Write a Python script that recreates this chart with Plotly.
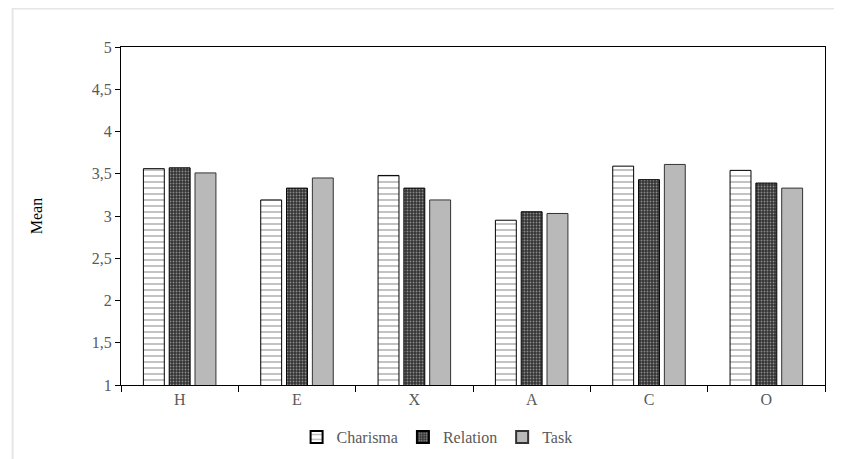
import plotly.graph_objects as go

categories = ["H", "E", "X", "A", "C", "O"]
charisma = [3.56, 3.19, 3.48, 2.95, 3.59, 3.54]
relation = [3.57, 3.33, 3.33, 3.05, 3.43, 3.39]
task = [3.51, 3.45, 3.19, 3.03, 3.61, 3.33]
y_ticks = [1, 1.5, 2, 2.5, 3, 3.5, 4, 4.5, 5]

FONT = "Liberation Serif"
GREY = "#595959"

fig = go.Figure()
fig.add_trace(go.Bar(
    name="Charisma", x=categories, y=charisma,
    marker=dict(color="white", line=dict(color="black", width=1),
                pattern=dict(shape="-", fgcolor="#7a7a7a", bgcolor="white",
                             size=6, solidity=0.3, fillmode="overlay")),
))
fig.add_trace(go.Bar(
    name="Relation", x=categories, y=relation,
    marker=dict(color="#333333", line=dict(color="black", width=1),
                pattern=dict(shape=".", fgcolor="#8c8c8c", bgcolor="#333333",
                             size=3, solidity=0.3, fillmode="replace")),
))
fig.add_trace(go.Bar(
    name="Task", x=categories, y=task,
    marker=dict(color="#b9b9b9", line=dict(color="#333333", width=1)),
))

# page body adds an 8px margin, so the figure is sized to fit the window
fig.update_layout(
    width=834, height=451,
    paper_bgcolor="white", plot_bgcolor="white",
    margin=dict(l=113, r=17, t=39, b=74, autoexpand=False),
    barmode="group", bargap=0.34, bargroupgap=0.19,
    separators=", ",
    font=dict(family=FONT, size=16, color=GREY),
    showlegend=True,
    legend=dict(orientation="h", x=0.449, xanchor="center", y=-0.154, yanchor="middle",
                font=dict(family=FONT, size=16, color=GREY),
                tracegroupgap=0, itemsizing="constant", itemwidth=30),
    xaxis=dict(showline=True, linecolor="black", linewidth=1, mirror=True,
               ticks="outside", tickson="boundaries", ticklen=6, tickcolor="black",
               automargin=False,
               tickfont=dict(family=FONT, size=16, color=GREY), showgrid=False),
    yaxis=dict(range=[1, 5], tickvals=y_ticks, showline=True, linecolor="black",
               linewidth=1, mirror=True, ticks="outside", ticklen=5, tickcolor="black",
               showgrid=False, zeroline=False, automargin=False,
               tickfont=dict(family=FONT, size=16, color=GREY),
               title=dict(text="Mean", font=dict(family=FONT, size=16, color="black"),
                          standoff=45)),
    shapes=[
        dict(type="line", xref="paper", yref="paper", x0=-0.155, x1=1.03,
             y0=1.114, y1=1.114, line=dict(color="#e6e6e6", width=2)),
        dict(type="line", xref="paper", yref="paper", x0=-0.154, x1=-0.154,
             y0=1.114, y1=-0.3, line=dict(color="#e6e6e6", width=2)),
    ],
)

fig.write_html("out.html")
